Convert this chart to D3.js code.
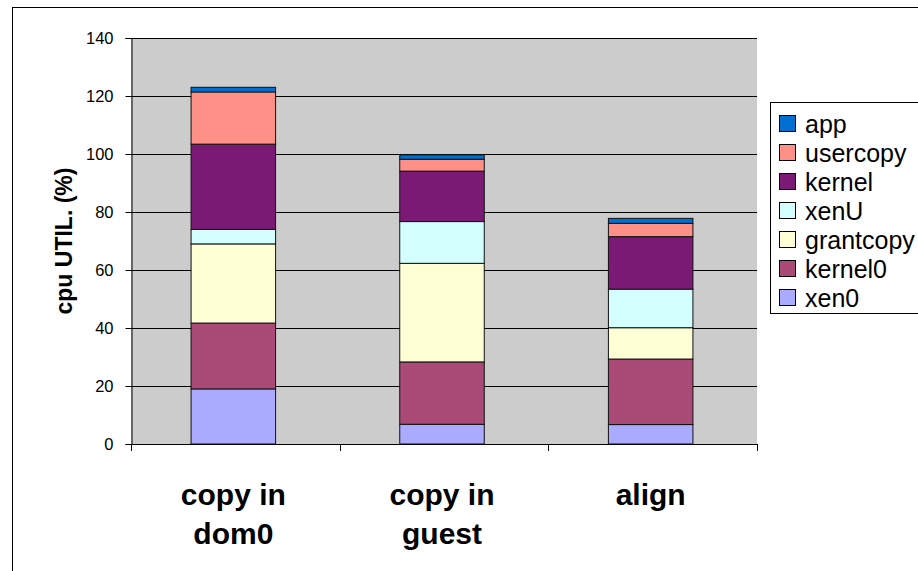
<!DOCTYPE html>
<html>
<head>
<meta charset="utf-8">
<script src="https://cdn.jsdelivr.net/npm/d3@7"></script>
<style>
  html, body { margin: 0; padding: 0; background: #fff; }
  svg { display: block; font-family: "Liberation Sans", Arial, sans-serif; }
</style>
</head>
<body>
<svg id="chart" width="918" height="571"></svg>
<script>
// Categories (two-line labels) and stacked CPU utilisation components (%)
const categories = ["copy in dom0", "copy in guest", "align"];
const categoryLines = [["copy in", "dom0"], ["copy in", "guest"], ["align"]];
const seriesNames = ["xen0", "kernel0", "grantcopy", "xenU", "kernel", "usercopy", "app"];
const xen0      = [19.0,  6.8,  6.7];
const kernel0   = [22.7, 21.5, 22.6];
const grantcopy = [27.3, 34.0, 10.8];
const xenU      = [ 5.0, 14.4, 13.3];
const kernel    = [29.4, 17.4, 18.1];
const usercopy  = [18.0,  4.1,  4.6];
const app       = [ 1.6,  1.5,  1.7];
const yTicks = [0, 20, 40, 60, 80, 100, 120, 140];

const seriesValues = { xen0, kernel0, grantcopy, xenU, kernel, usercopy, app };
const colors = {
  xen0: "#aaaaff", kernel0: "#a94b76", grantcopy: "#ffffd5", xenU: "#d4ffff",
  kernel: "#7a1a75", usercopy: "#ff9088", app: "#0070d0"
};
const FONT = "'Liberation Sans', Arial, sans-serif";

const svg = d3.select("#chart");

// outer chart frame
svg.append("rect").attr("x", 12.5).attr("y", 7.5).attr("width", 940).attr("height", 600)
  .attr("fill", "#fff").attr("stroke", "#000").attr("stroke-width", 1);

const plot = { left: 131, right: 757, top: 38, bottom: 444 };

const x = d3.scaleBand().domain(categories).range([plot.left, plot.right]).paddingInner(0.595).paddingOuter(0.2975);
const y = d3.scaleLinear().domain([0, 140]).range([plot.bottom, plot.top]);

// plot background
svg.append("rect").attr("x", plot.left).attr("y", plot.top)
  .attr("width", plot.right - plot.left).attr("height", plot.bottom - plot.top)
  .attr("fill", "#cccccc");

// gridlines
svg.append("g").selectAll("line").data(yTicks.filter(d => d > 0)).join("line")
  .attr("x1", plot.left).attr("x2", plot.right)
  .attr("y1", d => Math.round(y(d)) + 0.5).attr("y2", d => Math.round(y(d)) + 0.5)
  .attr("stroke", "#000").attr("stroke-width", 1);

// stacked bars
const rows = categories.map((c, i) => {
  const r = { category: c };
  seriesNames.forEach(s => r[s] = seriesValues[s][i]);
  return r;
});
const stack = d3.stack().keys(seriesNames)(rows);

svg.append("g").selectAll("g").data(stack).join("g")
  .attr("fill", d => colors[d.key])
  .selectAll("rect").data(d => d).join("rect")
  .attr("x", d => x(d.data.category) - 2)
  .attr("y", d => y(d[1]))
  .attr("width", x.bandwidth())
  .attr("height", d => y(d[0]) - y(d[1]))
  .attr("stroke", "#111").attr("stroke-width", 1);

// y axis
const yAxis = d3.axisLeft(y).tickValues(yTicks).tickSize(6).tickPadding(12).tickFormat(d3.format("d"));
const ya = svg.append("g").attr("transform", `translate(${plot.left + 0.5},0)`).call(yAxis);
ya.attr("font-family", FONT);
ya.select(".domain").attr("stroke", "#000");
ya.selectAll(".tick line").attr("stroke", "#000");
ya.selectAll(".tick text").attr("font-size", 16.5).attr("fill", "#000");

// x axis with ticks at band boundaries
svg.append("line").attr("x1", plot.left).attr("x2", plot.right)
  .attr("y1", plot.bottom + 0.5).attr("y2", plot.bottom + 0.5).attr("stroke", "#000");
const boundaries = d3.range(0, categories.length + 1).map(i => plot.left + i * (plot.right - plot.left) / categories.length);
svg.append("g").selectAll("line").data(boundaries).join("line")
  .attr("x1", d => Math.round(d) + 0.5).attr("x2", d => Math.round(d) + 0.5)
  .attr("y1", plot.bottom).attr("y2", plot.bottom + 7).attr("stroke", "#000");

// category labels
const labels = svg.append("g").selectAll("text").data(categories).join("text")
  .attr("text-anchor", "middle").attr("font-family", FONT)
  .attr("font-size", 30).attr("font-weight", "bold").attr("fill", "#000")
  .attr("transform", d => `translate(${x(d) + x.bandwidth() / 2 - 2},505)`);
labels.selectAll("tspan").data((d, i) => categoryLines[i]).join("tspan")
  .attr("x", 0).attr("dy", (d, i) => i === 0 ? 0 : 39).text(d => d);

// y axis title
svg.append("text").attr("transform", `translate(72,${(plot.top + plot.bottom) / 2}) rotate(-90)`)
  .attr("text-anchor", "middle").attr("font-family", FONT)
  .attr("font-size", 23).attr("font-weight", "bold")
  .text("cpu UTIL. (%)");

// legend (top entry = last stacked series); the box runs past the right edge
const legend = svg.append("g");
legend.append("rect").attr("x", 770.5).attr("y", 102.5).attr("width", 200).attr("height", 211)
  .attr("fill", "#fff").attr("stroke", "#000");
const legendOrder = seriesNames.slice().reverse();
const items = legend.selectAll("g").data(legendOrder).join("g")
  .attr("transform", (d, i) => `translate(779,${123 + i * 29})`);
items.append("rect").attr("x", 0.5).attr("y", -7.5).attr("width", 16).attr("height", 16)
  .attr("fill", d => colors[d]).attr("stroke", "#000");
items.append("text").attr("x", 26).attr("y", 1).attr("dy", "0.35em")
  .attr("font-family", FONT).attr("font-size", 25).attr("fill", "#000").text(d => d);
</script>
</body>
</html>
